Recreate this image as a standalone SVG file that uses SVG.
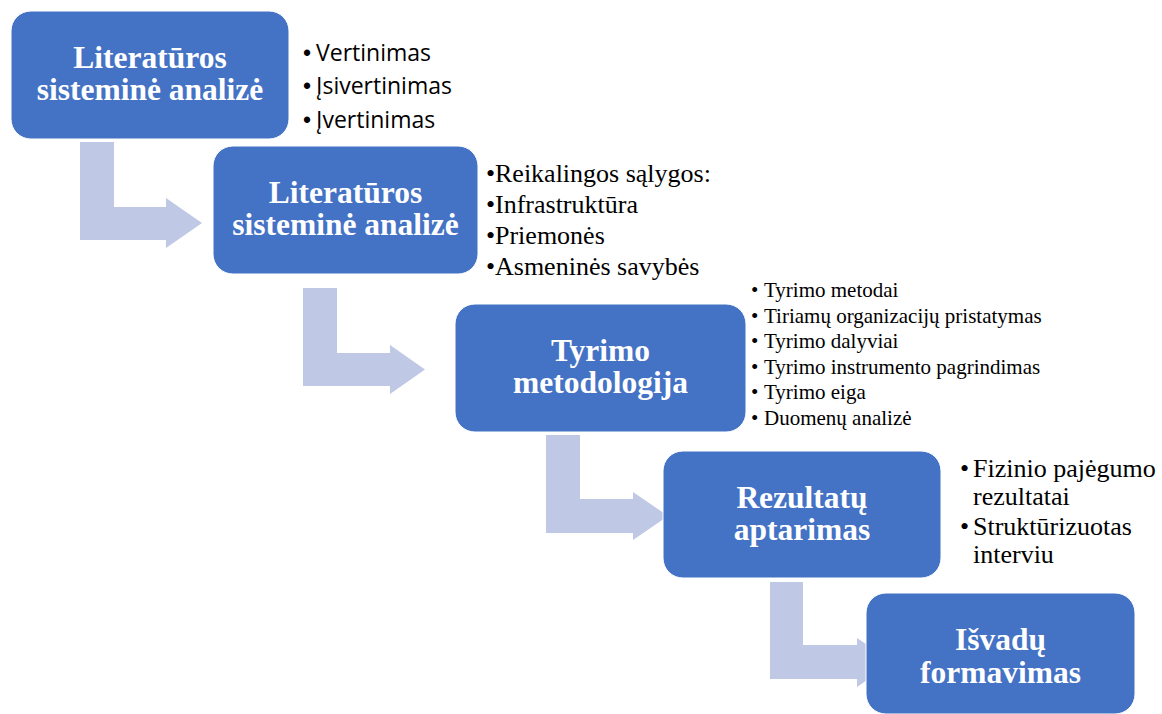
<svg xmlns="http://www.w3.org/2000/svg" width="1162" height="714" viewBox="0 0 1162 714">
  <style>
    .box { fill: #4472C4; stroke: #FFFFFF; stroke-width: 1; }
    .bend { fill: #BFC8E4; }
    .title { font-family: "Liberation Serif", "Times New Roman", serif; font-weight: bold; font-size: 31.5px; fill: #FFFFFF; text-anchor: middle; }
    .sans { font-family: "Open Sans", "Liberation Sans", sans-serif; font-size: 23px; fill: #000000; }
    .serif { font-family: "Liberation Serif", "Times New Roman", serif; fill: #000000; }
    .s26 { font-size: 26px; }
    .s21 { font-size: 21px; }
    .dot { font-family: "Liberation Sans", Arial, sans-serif; }
  </style>
  <rect width="1162" height="714" fill="#FFFFFF"/>

  <!-- bent arrows leading from each step to the next -->
  <g id="connectors">
    <polygon class="bend" points="80,142 114,142 114,207 166,207 166,198 202,223 166,248 166,240 80,240"/>
    <polygon class="bend" points="303,288 337,288 337,353 390,353 390,345 425,369.5 390,394 390,386 303,386"/>
    <polygon class="bend" points="546,435 580,435 580,499 633,499 633,492 668,516 633,540 633,533 546,533"/>
    <polygon class="bend" points="770,582 803,582 803,645 857,645 857,638 893,662 857,687 857,679 770,679"/>
  </g>

  <g id="step1">
    <rect class="box" x="11" y="11" width="278" height="128" rx="20"/>
    <text class="title" x="150" y="68">Literatūros</text>
    <text class="title" x="150" y="100">sisteminė analizė</text>
  </g>
  <g id="step1-notes" class="sans">
    <text class="dot" x="303" y="61">•</text><text x="316" y="61">Vertinimas</text>
    <text class="dot" x="303" y="94">•</text><text x="316" y="94">Įsivertinimas</text>
    <text class="dot" x="303" y="128">•</text><text x="316" y="128">Įvertinimas</text>
  </g>

  <g id="step2">
    <rect class="box" x="213" y="146" width="265" height="128" rx="20"/>
    <text class="title" x="345.5" y="203">Literatūros</text>
    <text class="title" x="345.5" y="235">sisteminė analizė</text>
  </g>
  <g id="step2-notes" class="serif s26">
    <text x="486" y="182">•</text><text x="495" y="182">Reikalingos sąlygos:</text>
    <text x="486" y="213">•</text><text x="495" y="213">Infrastruktūra</text>
    <text x="486" y="244">•</text><text x="495" y="244">Priemonės</text>
    <text x="486" y="275">•</text><text x="495" y="275">Asmeninės savybės</text>
  </g>

  <g id="step3">
    <rect class="box" x="455" y="304" width="291" height="128" rx="20"/>
    <text class="title" x="600.5" y="361">Tyrimo</text>
    <text class="title" x="600.5" y="393">metodologija</text>
  </g>
  <g id="step3-notes" class="serif s21">
    <text x="751" y="297">•</text><text x="764" y="297">Tyrimo metodai</text>
    <text x="751" y="322.5">•</text><text x="764" y="322.5">Tiriamų organizacijų pristatymas</text>
    <text x="751" y="348">•</text><text x="764" y="348">Tyrimo dalyviai</text>
    <text x="751" y="373.5">•</text><text x="764" y="373.5">Tyrimo instrumento pagrindimas</text>
    <text x="751" y="399">•</text><text x="764" y="399">Tyrimo eiga</text>
    <text x="751" y="425">•</text><text x="764" y="425">Duomenų analizė</text>
  </g>

  <g id="step4">
    <rect class="box" x="663" y="451" width="278" height="127" rx="20"/>
    <text class="title" x="802" y="508">Rezultatų</text>
    <text class="title" x="802" y="540">aptarimas</text>
  </g>
  <g id="step4-notes" class="serif s26">
    <text x="960" y="477">•</text><text x="973" y="477">Fizinio pajėgumo</text>
    <text x="973" y="505">rezultatai</text>
    <text x="960" y="535">•</text><text x="973" y="535">Struktūrizuotas</text>
    <text x="973" y="563">interviu</text>
  </g>

  <g id="step5">
    <rect class="box" x="866" y="593" width="269" height="121" rx="20"/>
    <text class="title" x="1000.5" y="650">Išvadų</text>
    <text class="title" x="1000.5" y="683">formavimas</text>
  </g>
</svg>
